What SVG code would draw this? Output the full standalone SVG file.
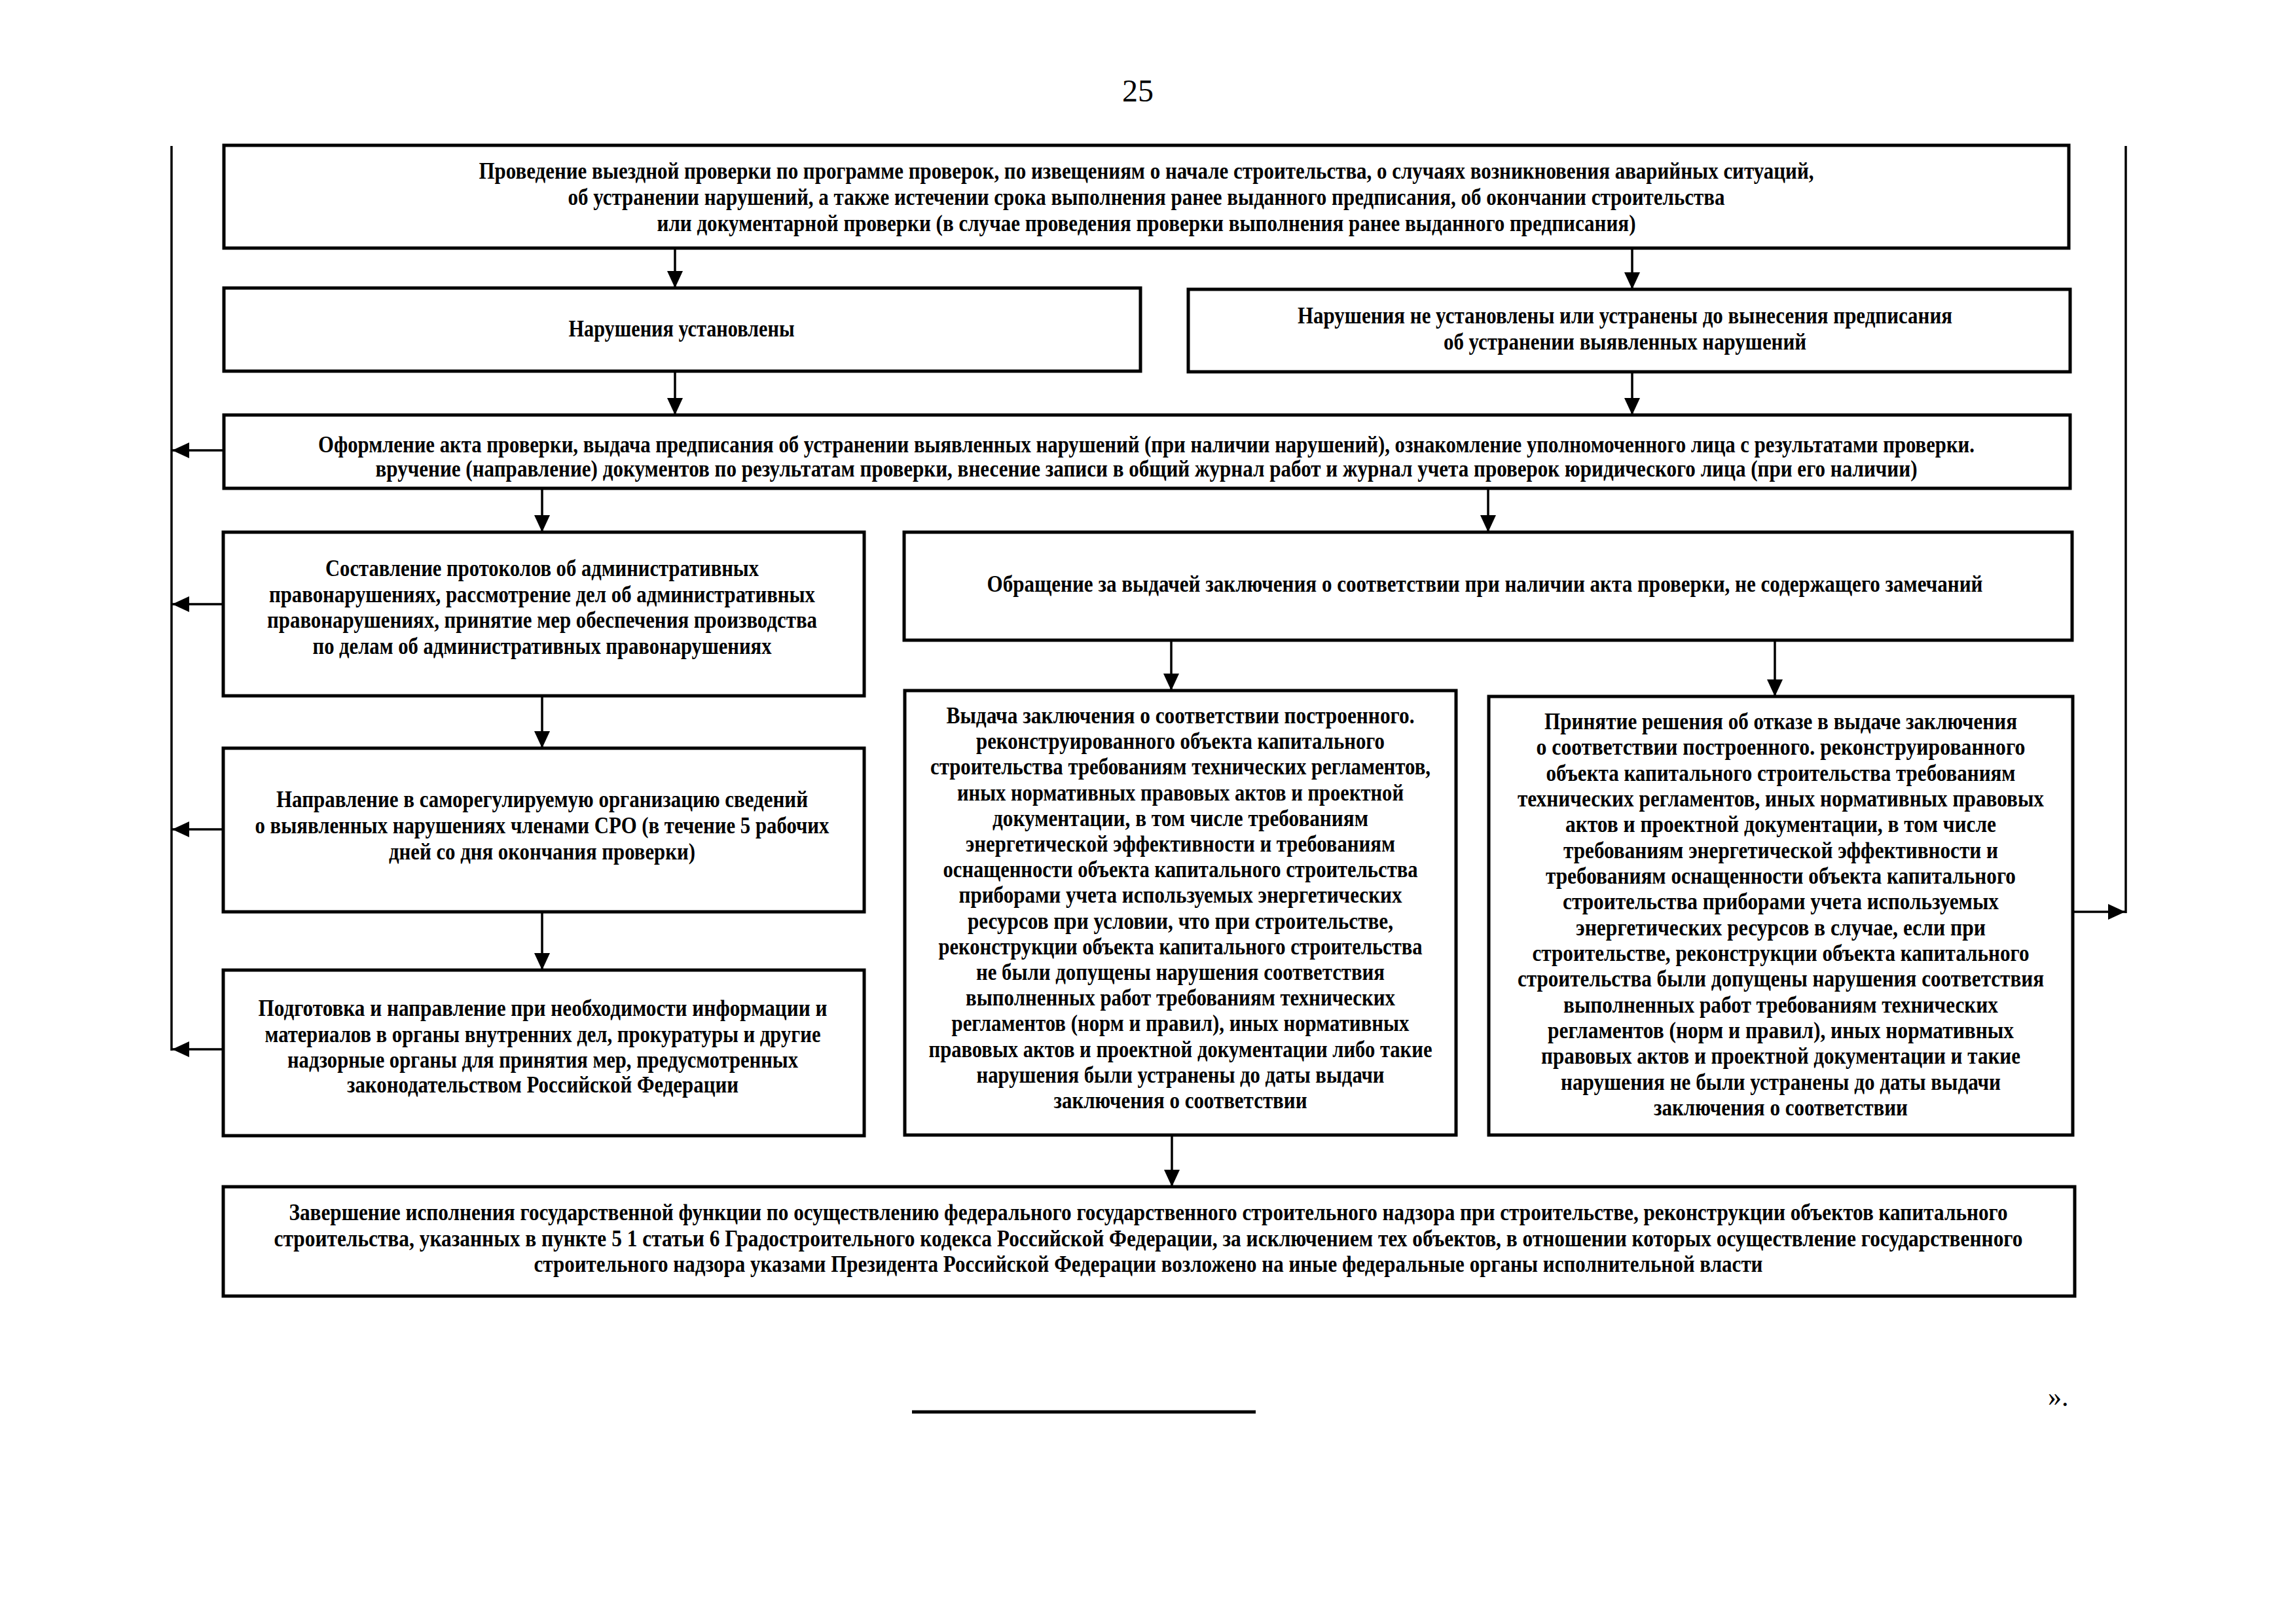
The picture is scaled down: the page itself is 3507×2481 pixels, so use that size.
<svg xmlns="http://www.w3.org/2000/svg" width="3507" height="2481" viewBox="0 0 3507 2481">
<style>
  .box { fill: #ffffff; stroke: #000000; stroke-width: 5; }
  .t { font-family: "Liberation Serif", "Times New Roman", serif; font-size: 35px; font-weight: bold; fill: #000000; text-anchor: middle; }
  .ln { stroke: #000000; stroke-width: 3.5; fill: none; }
  .ar { stroke: #000000; stroke-width: 3.5; fill: none; marker-end: url(#ah); }
  .pg { font-family: "Liberation Serif", "Times New Roman", serif; font-size: 48px; fill: #000000; text-anchor: middle; }
</style>
<defs>
  <marker id="ah" markerUnits="userSpaceOnUse" markerWidth="26" markerHeight="24" refX="26" refY="12" orient="auto">
    <path d="M0,0 L26,12 L0,24 z" fill="#000000"/>
  </marker>
</defs>
<rect x="0" y="0" width="3507" height="2481" fill="#ffffff"/>

<text class="pg" x="1738" y="155">25</text>

<g id="connectors">
  <line class="ln" x1="262" y1="223" x2="262" y2="1605"/>
  <line class="ln" x1="3247" y1="223" x2="3247" y2="1395"/>
  <line class="ar" x1="1031" y1="380" x2="1031" y2="440"/>
  <line class="ar" x1="2493" y1="380" x2="2493" y2="442"/>
  <line class="ar" x1="1031" y1="567" x2="1031" y2="634"/>
  <line class="ar" x1="2493" y1="568" x2="2493" y2="634"/>
  <line class="ar" x1="341" y1="688" x2="263" y2="688"/>
  <line class="ar" x1="828" y1="746" x2="828" y2="813"/>
  <line class="ar" x1="2273" y1="746" x2="2273" y2="813"/>
  <line class="ar" x1="341" y1="923" x2="263" y2="923"/>
  <line class="ar" x1="828" y1="1063" x2="828" y2="1143"/>
  <line class="ar" x1="341" y1="1267" x2="263" y2="1267"/>
  <line class="ar" x1="828" y1="1393" x2="828" y2="1482"/>
  <line class="ar" x1="341" y1="1603" x2="263" y2="1603"/>
  <line class="ar" x1="1789" y1="978" x2="1789" y2="1055"/>
  <line class="ar" x1="2711" y1="978" x2="2711" y2="1064"/>
  <line class="ar" x1="3166" y1="1393" x2="3246" y2="1393"/>
  <line class="ar" x1="1790" y1="1734" x2="1790" y2="1813"/>
</g>

<g id="n1">
  <rect class="box" x="342" y="222" width="2818" height="157"/>
  <text class="t" x="1751" y="273" textLength="2039" lengthAdjust="spacingAndGlyphs">Проведение выездной проверки по программе проверок, по извещениям о начале строительства, о случаях возникновения аварийных ситуаций,</text>
  <text class="t" x="1751" y="313" textLength="1767" lengthAdjust="spacingAndGlyphs">об устранении нарушений, а также истечении срока выполнения ранее выданного предписания, об окончании строительства</text>
  <text class="t" x="1751" y="353" textLength="1495" lengthAdjust="spacingAndGlyphs">или документарной проверки (в случае проведения проверки выполнения ранее выданного предписания)</text>
</g>

<g id="n2">
  <rect class="box" x="342" y="440" width="1400" height="127"/>
  <text class="t" x="1041" y="514" textLength="345" lengthAdjust="spacingAndGlyphs">Нарушения установлены</text>
</g>

<g id="n3">
  <rect class="box" x="1815" y="442" width="1347" height="126"/>
  <text class="t" x="2482" y="494" textLength="1000" lengthAdjust="spacingAndGlyphs">Нарушения не установлены или устранены до вынесения предписания</text>
  <text class="t" x="2482" y="534" textLength="554" lengthAdjust="spacingAndGlyphs">об устранении выявленных нарушений</text>
</g>

<g id="n4">
  <rect class="box" x="342" y="634" width="2820" height="112"/>
  <text class="t" x="1751" y="691" textLength="2530" lengthAdjust="spacingAndGlyphs">Оформление акта проверки, выдача предписания об устранении выявленных нарушений (при наличии нарушений), ознакомление уполномоченного лица с результатами проверки.</text>
  <text class="t" x="1751" y="728" textLength="2355" lengthAdjust="spacingAndGlyphs">вручение (направление) документов по результатам проверки, внесение записи в общий журнал работ и журнал учета проверок юридического лица (при его наличии)</text>
</g>

<g id="n5">
  <rect class="box" x="341" y="813" width="979" height="250"/>
  <text class="t" x="828" y="880" textLength="662" lengthAdjust="spacingAndGlyphs">Составление протоколов об административных</text>
  <text class="t" x="828" y="920" textLength="834" lengthAdjust="spacingAndGlyphs">правонарушениях, рассмотрение дел об административных</text>
  <text class="t" x="828" y="959" textLength="840" lengthAdjust="spacingAndGlyphs">правонарушениях, принятие мер обеспечения производства</text>
  <text class="t" x="828" y="999" textLength="701" lengthAdjust="spacingAndGlyphs">по делам об административных правонарушениях</text>
</g>

<g id="n6">
  <rect class="box" x="1381" y="813" width="1784" height="165"/>
  <text class="t" x="2268" y="904" textLength="1521" lengthAdjust="spacingAndGlyphs">Обращение за выдачей заключения о соответствии при наличии акта проверки, не содержащего замечаний</text>
</g>

<g id="n7">
  <rect class="box" x="341" y="1143" width="979" height="250"/>
  <text class="t" x="828" y="1233" textLength="812" lengthAdjust="spacingAndGlyphs">Направление в саморегулируемую организацию сведений</text>
  <text class="t" x="828" y="1273" textLength="877" lengthAdjust="spacingAndGlyphs">о выявленных нарушениях членами СРО (в течение 5 рабочих</text>
  <text class="t" x="828" y="1313" textLength="468" lengthAdjust="spacingAndGlyphs">дней со дня окончания проверки)</text>
</g>

<g id="n8">
  <rect class="box" x="341" y="1482" width="979" height="253"/>
  <text class="t" x="829" y="1552" textLength="869" lengthAdjust="spacingAndGlyphs">Подготовка и направление при необходимости информации и</text>
  <text class="t" x="829" y="1592" textLength="849" lengthAdjust="spacingAndGlyphs">материалов в органы внутренних дел, прокуратуры и другие</text>
  <text class="t" x="829" y="1631" textLength="780" lengthAdjust="spacingAndGlyphs">надзорные органы для принятия мер, предусмотренных</text>
  <text class="t" x="829" y="1669" textLength="598" lengthAdjust="spacingAndGlyphs">законодательством Российской Федерации</text>
</g>

<g id="n9">
  <rect class="box" x="1382" y="1055" width="842" height="679"/>
  <text class="t" x="1803" y="1105" textLength="715" lengthAdjust="spacingAndGlyphs">Выдача заключения о соответствии построенного.</text>
  <text class="t" x="1803" y="1144" textLength="624" lengthAdjust="spacingAndGlyphs">реконструированного объекта капитального</text>
  <text class="t" x="1803" y="1183" textLength="764" lengthAdjust="spacingAndGlyphs">строительства требованиям технических регламентов,</text>
  <text class="t" x="1803" y="1223" textLength="682" lengthAdjust="spacingAndGlyphs">иных нормативных правовых актов и проектной</text>
  <text class="t" x="1803" y="1262" textLength="574" lengthAdjust="spacingAndGlyphs">документации, в том числе требованиям</text>
  <text class="t" x="1803" y="1301" textLength="656" lengthAdjust="spacingAndGlyphs">энергетической эффективности и требованиям</text>
  <text class="t" x="1803" y="1340" textLength="725" lengthAdjust="spacingAndGlyphs">оснащенности объекта капитального строительства</text>
  <text class="t" x="1803" y="1379" textLength="677" lengthAdjust="spacingAndGlyphs">приборами учета используемых энергетических</text>
  <text class="t" x="1803" y="1419" textLength="650" lengthAdjust="spacingAndGlyphs">ресурсов при условии, что при строительстве,</text>
  <text class="t" x="1803" y="1458" textLength="739" lengthAdjust="spacingAndGlyphs">реконструкции объекта капитального строительства</text>
  <text class="t" x="1803" y="1497" textLength="624" lengthAdjust="spacingAndGlyphs">не были допущены нарушения соответствия</text>
  <text class="t" x="1803" y="1536" textLength="656" lengthAdjust="spacingAndGlyphs">выполненных работ требованиям технических</text>
  <text class="t" x="1803" y="1575" textLength="699" lengthAdjust="spacingAndGlyphs">регламентов (норм и правил), иных нормативных</text>
  <text class="t" x="1803" y="1615" textLength="769" lengthAdjust="spacingAndGlyphs">правовых актов и проектной документации либо такие</text>
  <text class="t" x="1803" y="1654" textLength="623" lengthAdjust="spacingAndGlyphs">нарушения были устранены до даты выдачи</text>
  <text class="t" x="1803" y="1693" textLength="387" lengthAdjust="spacingAndGlyphs">заключения о соответствии</text>
</g>

<g id="n10">
  <rect class="box" x="2274" y="1064" width="892" height="670"/>
  <text class="t" x="2720" y="1114" textLength="722" lengthAdjust="spacingAndGlyphs">Принятие решения об отказе в выдаче заключения</text>
  <text class="t" x="2720" y="1153" textLength="747" lengthAdjust="spacingAndGlyphs">о соответствии построенного. реконструированного</text>
  <text class="t" x="2720" y="1193" textLength="717" lengthAdjust="spacingAndGlyphs">объекта капитального строительства требованиям</text>
  <text class="t" x="2720" y="1232" textLength="804" lengthAdjust="spacingAndGlyphs">технических регламентов, иных нормативных правовых</text>
  <text class="t" x="2720" y="1271" textLength="658" lengthAdjust="spacingAndGlyphs">актов и проектной документации, в том числе</text>
  <text class="t" x="2720" y="1311" textLength="664" lengthAdjust="spacingAndGlyphs">требованиям энергетической эффективности и</text>
  <text class="t" x="2720" y="1350" textLength="718" lengthAdjust="spacingAndGlyphs">требованиям оснащенности объекта капитального</text>
  <text class="t" x="2720" y="1389" textLength="666" lengthAdjust="spacingAndGlyphs">строительства приборами учета используемых</text>
  <text class="t" x="2720" y="1429" textLength="626" lengthAdjust="spacingAndGlyphs">энергетических ресурсов в случае, если при</text>
  <text class="t" x="2720" y="1468" textLength="759" lengthAdjust="spacingAndGlyphs">строительстве, реконструкции объекта капитального</text>
  <text class="t" x="2720" y="1507" textLength="804" lengthAdjust="spacingAndGlyphs">строительства были допущены нарушения соответствия</text>
  <text class="t" x="2720" y="1547" textLength="664" lengthAdjust="spacingAndGlyphs">выполненных работ требованиям технических</text>
  <text class="t" x="2720" y="1586" textLength="712" lengthAdjust="spacingAndGlyphs">регламентов (норм и правил), иных нормативных</text>
  <text class="t" x="2720" y="1625" textLength="732" lengthAdjust="spacingAndGlyphs">правовых актов и проектной документации и такие</text>
  <text class="t" x="2720" y="1665" textLength="672" lengthAdjust="spacingAndGlyphs">нарушения не были устранены до даты выдачи</text>
  <text class="t" x="2720" y="1704" textLength="388" lengthAdjust="spacingAndGlyphs">заключения о соответствии</text>
</g>

<g id="n11">
  <rect class="box" x="341" y="1813" width="2828" height="167"/>
  <text class="t" x="1754" y="1864" textLength="2625" lengthAdjust="spacingAndGlyphs">Завершение исполнения государственной функции по осуществлению федерального государственного строительного надзора при строительстве, реконструкции объектов капитального</text>
  <text class="t" x="1754" y="1904" textLength="2671" lengthAdjust="spacingAndGlyphs">строительства, указанных в пункте 5 1 статьи 6 Градостроительного кодекса Российской Федерации, за исключением тех объектов, в отношении которых осуществление государственного</text>
  <text class="t" x="1754" y="1943" textLength="1877" lengthAdjust="spacingAndGlyphs">строительного надзора указами Президента Российской Федерации возложено на иные федеральные органы исполнительной власти</text>
</g>

<line x1="1393" y1="2157" x2="1918" y2="2157" stroke="#000000" stroke-width="5"/>
<text x="3128" y="2148" font-family="Liberation Serif, serif" font-size="42" fill="#000000">».</text>
</svg>
